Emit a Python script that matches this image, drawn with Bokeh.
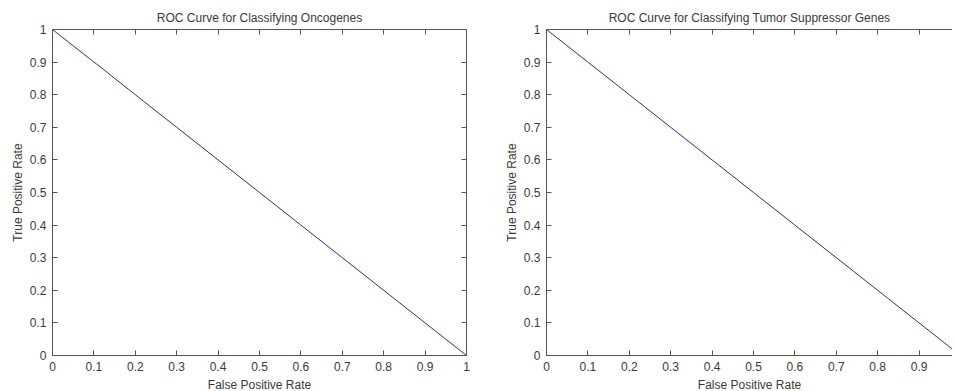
from bokeh.plotting import figure
from bokeh.layouts import row
from bokeh.models import LinearAxis, FixedTicker, Range1d
from bokeh.embed import file_html
from bokeh.resources import INLINE

titles = ["ROC Curve for Classifying Oncogenes",
          "ROC Curve for Classifying Tumor Suppressor Genes"]
x_label = "False Positive Rate"
y_label = "True Positive Rate"
tick_values = [0, 0.1, 0.2, 0.3, 0.4, 0.5, 0.6, 0.7, 0.8, 0.9, 1.0]
tick_labels = ["0", "0.1", "0.2", "0.3", "0.4", "0.5", "0.6", "0.7", "0.8", "0.9", "1"]

onco_fpr = [0.0, 0.05, 0.1, 0.12, 0.15, 0.2, 0.3, 0.4, 0.5, 0.6, 0.7, 0.8, 0.9, 1.0]
onco_tpr = [1.0, 0.95, 0.9, 0.881, 0.85, 0.8, 0.7, 0.6, 0.5, 0.4, 0.3, 0.2, 0.1, 0.0]
tsg_fpr = [0.0, 0.05, 0.1, 0.2, 0.3, 0.4, 0.5, 0.6, 0.7, 0.8, 0.9, 1.0]
tsg_tpr = [1.0, 0.95, 0.9, 0.8, 0.7, 0.6, 0.5, 0.4, 0.3, 0.2, 0.1, 0.0]

FONT = "Liberation Sans"
TEXT = "#3a3a3a"
AXIS = "#555555"
LINE = "#2c2c86"
overrides = {v: l for v, l in zip(tick_values, tick_labels)}
blank = {v: "" for v in tick_values}


def style_axis(ax, labels=True):
    ax.ticker = FixedTicker(ticks=tick_values)
    ax.major_tick_in = 5
    ax.major_tick_out = 0
    ax.minor_tick_line_color = None
    ax.axis_line_color = AXIS
    ax.major_tick_line_color = AXIS
    ax.major_label_text_font = FONT
    ax.major_label_text_color = TEXT
    ax.axis_label_text_font = FONT
    ax.axis_label_text_color = TEXT
    ax.axis_label_text_font_style = "normal"
    ax.axis_label_text_font_size = "12px"
    ax.major_label_text_font_size = "12px"
    if labels:
        ax.major_label_overrides = overrides
        ax.major_label_standoff = 6
    else:
        ax.major_label_overrides = blank
        ax.major_label_standoff = 0


def make_plot(title, fpr, tpr, frame_w, x_end, bl, br, right_axis):
    p = figure(frame_width=frame_w, frame_height=326,
               min_border_left=bl, min_border_right=br,
               min_border_top=29, min_border_bottom=31,
               x_range=Range1d(0, x_end), y_range=Range1d(0, 1),
               output_backend="svg", toolbar_location=None,
               tools="", title=title)
    p.title.align = "center"
    p.title.text_font = FONT
    p.title.text_font_size = "12px"
    p.title.text_font_style = "normal"
    p.title.text_color = TEXT
    p.title.standoff = 10
    p.outline_line_color = None
    p.grid.visible = False
    style_axis(p.xaxis[0])
    style_axis(p.yaxis[0])
    p.xaxis[0].axis_label = x_label
    p.xaxis[0].axis_label_standoff = 4
    p.yaxis[0].axis_label = y_label
    p.yaxis[0].axis_label_standoff = 2
    top = LinearAxis()
    style_axis(top, labels=False)
    p.add_layout(top, "above")
    if right_axis:
        r = LinearAxis()
        style_axis(r, labels=False)
        p.add_layout(r, "right")
    p.line(fpr, tpr, line_color=LINE, line_width=1)
    return p


p1 = make_plot(titles[0], onco_fpr, onco_tpr, 414, 1.0, 52, 34, True)
p2 = make_plot(titles[1], tsg_fpr, tsg_tpr, 406, 406 / 414, 46, 0, False)
layout = row(p1, p2)

open("out.html", "w").write(file_html(layout, INLINE))
